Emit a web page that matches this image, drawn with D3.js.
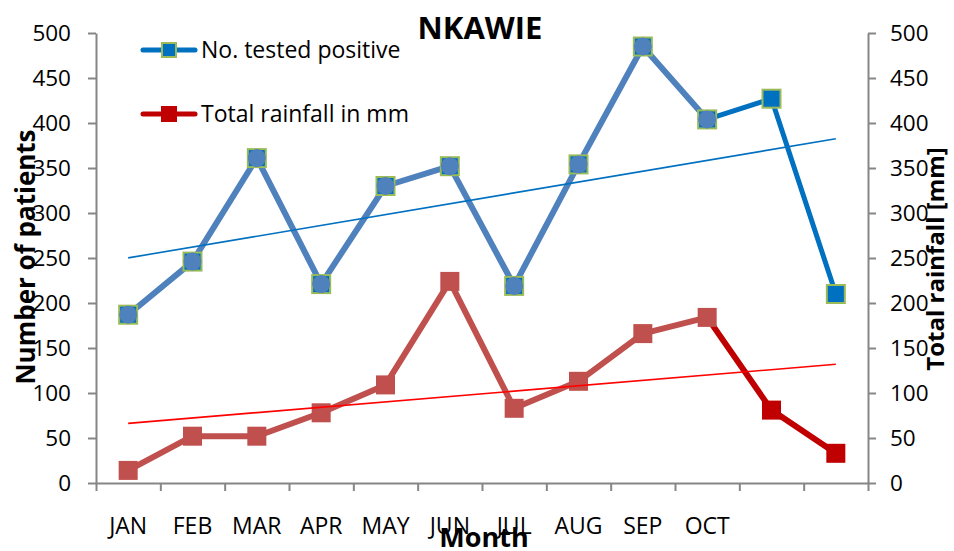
<!DOCTYPE html>
<html><head><meta charset="utf-8">
<script src="https://cdn.jsdelivr.net/npm/d3@7"></script>
<style>
html,body{margin:0;padding:0;background:#fff;}
svg{display:block;}
text{font-family:"Open Sans",sans-serif;fill:#000;}
</style></head>
<body>
<svg id="chart" width="954" height="551"></svg>
<script>
const months = ["JAN","FEB","MAR","APR","MAY","JUN","JUL","AUG","SEP","OCT","NOV","DEC"];
const monthLabels = ["JAN","FEB","MAR","APR","MAY","JUN","JUL","AUG","SEP","OCT","",""];
const positives = [187,246,361,221,330,352,219,354,485,404,427,210];
const rainfall = [14,52,52,78,109,224,83,113,166,184,81,33];
const yTicks = [0,50,100,150,200,250,300,350,400,450,500];
const title = "NKAWIE";
const seriesNames = ["No. tested positive","Total rainfall in mm"];

const svg = d3.select("#chart");
const L = 96, R = 868, T = 33, B = 483;
const x = d3.scaleBand().domain(months).range([L, R]);
const cx = m => x(m) + x.bandwidth()/2;
const xEdge = d3.scaleLinear().domain([0, 12]).range([L, R]);
const y = d3.scaleLinear().domain([0, 500]).range([B, T]);
const axisColor = "#868686";

// axes
const gl = svg.append("g").attr("transform", `translate(${L},0)`)
  .call(d3.axisLeft(y).tickValues(yTicks).tickSize(8).tickSizeOuter(0).tickPadding(17));
const gr = svg.append("g").attr("transform", `translate(${R},0)`)
  .call(d3.axisRight(y).tickValues(yTicks).tickSize(8).tickSizeOuter(0).tickPadding(14));
const gb = svg.append("g").attr("transform", `translate(0,${B})`)
  .call(d3.axisBottom(xEdge).tickValues(d3.range(13)).tickFormat("").tickSize(8).tickSizeOuter(0));
[gl, gr, gb].forEach(g => {
  g.selectAll("path.domain").attr("stroke", axisColor).attr("stroke-width", 2);
  g.selectAll(".tick line").attr("stroke", axisColor).attr("stroke-width", 2);
  g.selectAll("text").attr("font-family", "Open Sans").attr("font-size", 22.5).attr("fill", "#000");
});

// month labels
svg.append("g").selectAll("text").data(months).join("text")
  .attr("x", d => cx(d)).attr("y", 534).attr("text-anchor", "middle")
  .attr("font-size", 23).text((d, i) => monthLabels[i]);

// regression trend lines
function trend(vals) {
  const n = vals.length, xs = d3.range(n);
  const mx = d3.mean(xs), my = d3.mean(vals);
  const sxy = d3.sum(xs, i => (i - mx) * (vals[i] - my));
  const sxx = d3.sum(xs, i => (i - mx) * (i - mx));
  const b = sxy / sxx, a = my - b * mx;
  return [[0, a], [n - 1, a + b * (n - 1)]];
}
const line = d3.line().x(d => cx(months[d[0]])).y(d => y(d[1]));
const idx = vals => vals.map((v, i) => [i, v]);

// red series
const rPts = idx(rainfall);
svg.append("path").attr("d", line(rPts.slice(0, 10))).attr("fill", "none")
  .attr("stroke", "#C0504D").attr("stroke-width", 6).attr("stroke-linejoin", "round");
svg.append("path").attr("d", line(rPts.slice(9))).attr("fill", "none")
  .attr("stroke", "#C00000").attr("stroke-width", 6).attr("stroke-linejoin", "round");
const rs = 19;
svg.append("g").selectAll("rect").data(rPts).join("rect")
  .attr("x", d => cx(months[d[0]]) - rs/2).attr("y", d => y(d[1]) - rs/2)
  .attr("width", rs).attr("height", rs)
  .attr("fill", d => d[0] < 10 ? "#C0504D" : "#C00000");

// blue series
const bPts = idx(positives);
svg.append("path").attr("d", line(bPts.slice(0, 10))).attr("fill", "none")
  .attr("stroke", "#4F81BD").attr("stroke-width", 6).attr("stroke-linejoin", "round");
svg.append("path").attr("d", line(bPts.slice(9))).attr("fill", "none")
  .attr("stroke", "#0070C0").attr("stroke-width", 5).attr("stroke-linejoin", "round");
const bs = 18;
svg.append("g").selectAll("rect").data(bPts).join("rect")
  .attr("x", d => cx(months[d[0]]) - bs/2).attr("y", d => y(d[1]) - bs/2)
  .attr("width", bs).attr("height", bs)
  .attr("fill", "#0070C0").attr("stroke", "#9BBB59").attr("stroke-width", 2);
svg.append("g").selectAll("circle").data(bPts.slice(0, 10)).join("circle")
  .attr("cx", d => cx(months[d[0]])).attr("cy", d => y(d[1])).attr("r", 9)
  .attr("fill", "#4F81BD");

// trend lines
svg.append("path").attr("d", line(trend(positives))).attr("stroke", "#0070C0")
  .attr("stroke-width", 1.6).attr("fill", "none");
svg.append("path").attr("d", line(trend(rainfall))).attr("stroke", "#FF0000")
  .attr("stroke-width", 1.6).attr("fill", "none");

// legend
const lg = svg.append("g");
lg.append("line").attr("x1", 143).attr("x2", 195).attr("y1", 50).attr("y2", 50)
  .attr("stroke", "#0070C0").attr("stroke-width", 5).attr("stroke-linecap", "round");
lg.append("rect").attr("x", 162).attr("y", 43).attr("width", 14).attr("height", 14)
  .attr("fill", "#0070C0").attr("stroke", "#9BBB59").attr("stroke-width", 2);
lg.append("text").attr("x", 201).attr("y", 58).attr("font-size", 23).text(seriesNames[0]);
lg.append("line").attr("x1", 143).attr("x2", 195).attr("y1", 114).attr("y2", 114)
  .attr("stroke", "#C00000").attr("stroke-width", 5).attr("stroke-linecap", "round");
lg.append("rect").attr("x", 161).attr("y", 106).attr("width", 16).attr("height", 16)
  .attr("fill", "#C00000");
lg.append("text").attr("x", 201).attr("y", 122).attr("font-size", 23).text(seriesNames[1]);

// titles
svg.append("text").attr("x", 480).attr("y", 39).attr("text-anchor", "middle")
  .attr("font-weight", "bold").attr("font-size", 31).text(title);
svg.append("text").attr("x", 484).attr("y", 547).attr("text-anchor", "middle")
  .attr("font-weight", "bold").attr("font-size", 27).text("Month");
svg.append("text").attr("transform", "translate(35,257) rotate(-90)").attr("text-anchor", "middle")
  .attr("font-weight", "bold").attr("font-size", 26).text("Number of patients");
svg.append("text").attr("transform", "translate(944,259) rotate(-90)").attr("text-anchor", "middle")
  .attr("font-weight", "bold").attr("font-size", 24).text("Total rainfall [mm]");
</script>
</body></html>
